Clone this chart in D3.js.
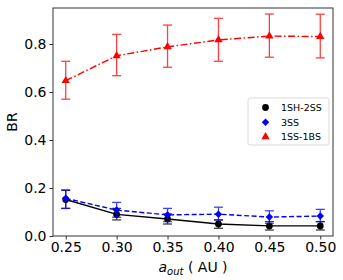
<!DOCTYPE html>
<html>
<head>
<meta charset="utf-8">
<script src="https://cdn.jsdelivr.net/npm/d3@7"></script>
<style>
  body { margin: 0; background: #fff; }
  svg text { font-family: "DejaVu Sans", sans-serif; }
</style>
</head>
<body>
<script>
// data
var aout = [0.25, 0.30, 0.35, 0.40, 0.45, 0.50];
var xTicks = [0.25, 0.30, 0.35, 0.40, 0.45, 0.50];
var yTicks = [0.0, 0.2, 0.4, 0.6, 0.8];

var br_1sh2ss = [0.152, 0.090, 0.071, 0.050, 0.042, 0.042];
var lo_1sh2ss = [0.115, 0.067, 0.050, 0.032, 0.025, 0.025];
var hi_1sh2ss = [0.190, 0.115, 0.092, 0.067, 0.060, 0.060];

var br_3ss = [0.157, 0.108, 0.088, 0.091, 0.079, 0.083];
var lo_3ss = [0.115, 0.078, 0.060, 0.067, 0.053, 0.060];
var hi_3ss = [0.192, 0.140, 0.115, 0.120, 0.105, 0.111];

var br_1ss1bs = [0.647, 0.751, 0.788, 0.817, 0.833, 0.831];
var lo_1ss1bs = [0.570, 0.668, 0.703, 0.728, 0.745, 0.742];
var hi_1ss1bs = [0.728, 0.840, 0.879, 0.907, 0.925, 0.924];

var names = ["1SH-2SS", "3SS", "1SS-1BS"];

// 基本設定
var w = 343, h = 280;
var pLeft = 53, pRight = 333, pTop = 8, pBottom = 236;

var svg = d3.select("body").append("svg")
  .attr("width", w)
  .attr("height", h);

var x = d3.scaleLinear().domain([0.2375, 0.5125]).range([pLeft, pRight]);
var y = d3.scaleLinear().domain([0, 0.95]).range([pBottom, pTop]);

var series = [
  {name: names[0], v: br_1sh2ss, lo: lo_1sh2ss, hi: hi_1sh2ss, color: "#000000", dash: null, marker: d3.symbolCircle, size: 36},
  {name: names[1], v: br_3ss, lo: lo_3ss, hi: hi_3ss, color: "#0000ff", dash: "5,2.5", marker: d3.symbolDiamond2, size: 36},
  {name: names[2], v: br_1ss1bs, lo: lo_1ss1bs, hi: hi_1ss1bs, color: "#ff0000", dash: "7,2.5,1.5,2.5", marker: d3.symbolTriangle, size: 30}
];

var line = d3.line()
  .x(function(d){ return x(d[0]); })
  .y(function(d){ return y(d[1]); });

series.forEach(function(s) {
  var g = svg.append("g");
  var pts = aout.map(function(a, i){ return [a, s.v[i]]; });

  // error bars
  var eb = g.append("g").attr("opacity", 0.75);
  aout.forEach(function(a, i) {
    var cx = x(a);
    eb.append("line")
      .attr("x1", cx).attr("x2", cx)
      .attr("y1", y(s.lo[i])).attr("y2", y(s.hi[i]))
      .attr("stroke", s.color).attr("stroke-width", 1.3);
    [s.lo[i], s.hi[i]].forEach(function(e) {
      eb.append("line")
        .attr("x1", cx - 4.5).attr("x2", cx + 4.5)
        .attr("y1", y(e)).attr("y2", y(e))
        .attr("stroke", s.color).attr("stroke-width", 1.3);
    });
  });

  g.append("path")
    .attr("d", line(pts))
    .attr("fill", "none")
    .attr("stroke", s.color)
    .attr("stroke-width", 1.4)
    .attr("stroke-dasharray", s.dash);

  g.selectAll("path.m")
    .data(pts)
    .enter()
    .append("path")
    .attr("class", "m")
    .attr("d", d3.symbol().type(s.marker).size(s.size))
    .attr("transform", function(d){ return "translate(" + x(d[0]) + "," + y(d[1]) + ")"; })
    .attr("fill", s.color);
});

// axes
var xAxis = svg.append("g")
  .attr("transform", "translate(0," + pBottom + ")")
  .call(d3.axisBottom(x).tickValues(xTicks).tickFormat(d3.format(".2f")).tickSize(3.5).tickPadding(3));
var yAxis = svg.append("g")
  .attr("transform", "translate(" + pLeft + ",0)")
  .call(d3.axisLeft(y).tickValues(yTicks).tickFormat(d3.format(".1f")).tickSize(3.5).tickPadding(3));

[xAxis, yAxis].forEach(function(a) {
  a.select(".domain").remove();
  a.selectAll("text").attr("font-size", 14).attr("fill", "#000").style("font-family", "DejaVu Sans, sans-serif");
  a.selectAll("line").attr("stroke", "#000").attr("stroke-width", 0.8);
});

// frame
svg.append("rect")
  .attr("x", pLeft).attr("y", pTop)
  .attr("width", pRight - pLeft).attr("height", pBottom - pTop)
  .attr("fill", "none")
  .attr("stroke", "#333")
  .attr("stroke-width", 1);

// labels
svg.append("text")
  .attr("transform", "translate(17," + ((pTop + pBottom) / 2) + ") rotate(-90)")
  .attr("text-anchor", "middle")
  .attr("font-size", 14)
  .text("BR");

var xl = svg.append("text")
  .attr("x", (pLeft + pRight) / 2)
  .attr("y", 272)
  .attr("text-anchor", "middle")
  .attr("font-size", 14);
xl.append("tspan").attr("font-style", "italic").text("a");
xl.append("tspan").attr("font-style", "italic").attr("font-size", 10).attr("dy", 3).text("out");
xl.append("tspan").attr("dy", -3).text(" ( AU )");

// legend
var lg = svg.append("g");
lg.append("rect")
  .attr("x", 248).attr("y", 98)
  .attr("width", 81).attr("height", 47)
  .attr("rx", 2)
  .attr("fill", "#fff")
  .attr("fill-opacity", 0.8)
  .attr("stroke", "#d0d0d0")
  .attr("stroke-width", 0.8);

series.forEach(function(s, i) {
  var ly = 107.5 + i * 14.7;
  lg.append("path")
    .attr("d", d3.symbol().type(s.marker).size(s.size))
    .attr("transform", "translate(265.5," + ly + ")")
    .attr("fill", s.color);
  lg.append("text")
    .attr("x", 281).attr("y", ly)
    .attr("dy", "0.35em")
    .attr("font-size", 9.5)
    .text(s.name);
});
</script>
</body>
</html>
